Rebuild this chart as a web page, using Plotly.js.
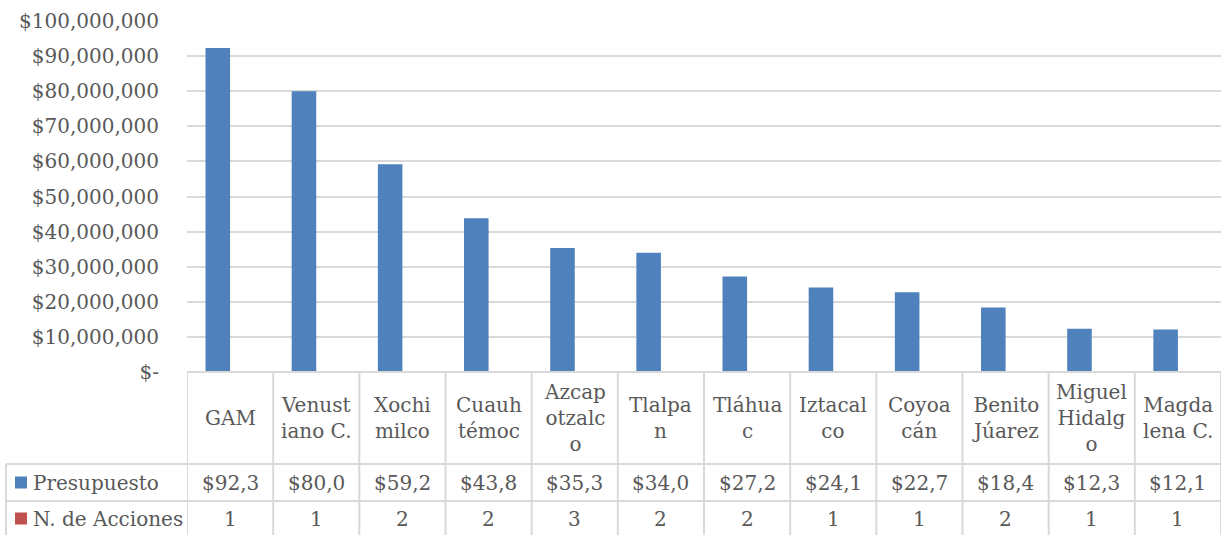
<!DOCTYPE html>
<html>
<head>
<meta charset="utf-8">
<script src="https://cdn.plot.ly/plotly-3.0.1.min.js"></script>
<style>
html,body{margin:0;padding:0;background:#fff;}
#chart{width:1225px;height:535px;}
</style>
</head>
<body>
<div id="chart"></div>
<script>
// ---- Data ----
const categories = ["GAM", "Venust<br>iano C.", "Xochi<br>milco", "Cuauh<br>témoc", "Azcap<br>otzalc<br>o", "Tlalpa<br>n", "Tláhua<br>c", "Iztacal<br>co", "Coyoa<br>cán", "Benito<br>Júarez", "Miguel<br>Hidalg<br>o", "Magda<br>lena C."];
const presupuesto = [92300000, 80000000, 59200000, 43800000, 35300000, 34000000, 27200000, 24100000, 22700000, 18400000, 12300000, 12100000];
const presupuestoLabels = ["$92,3", "$80,0", "$59,2", "$43,8", "$35,3", "$34,0", "$27,2", "$24,1", "$22,7", "$18,4", "$12,3", "$12,1"];
const acciones = [1, 1, 2, 2, 3, 2, 2, 1, 1, 2, 1, 1];
const seriesNames = ["Presupuesto", "N. de Acciones"];
const yTickVals = [0, 10000000, 20000000, 30000000, 40000000, 50000000, 60000000, 70000000, 80000000, 90000000, 100000000];
const yTickText = ["$-", "$10,000,000", "$20,000,000", "$30,000,000", "$40,000,000", "$50,000,000", "$60,000,000", "$70,000,000", "$80,000,000", "$90,000,000", "$100,000,000"];

// ---- Geometry helpers (pixel -> paper) ----
const W = 1225, H = 535;
const mL = 187, mR = 4, mT = 21, mB = 163;
const pw = W - mL - mR, ph = H - mT - mB;
const px = x => (x - mL) / pw;
const py = y => (H - mB - y) / ph;

const FONT = "DejaVu Serif";
const FS = 20;
const TXT = "#595959";
const GRID = "#d9d9d9";
const BLUE = "#4f81bd", RED = "#c0504d";
const idx = categories.map((_, i) => i);

const traces = [
  {type: "bar", x: idx, y: presupuesto, name: seriesNames[0], marker: {color: BLUE}, hoverinfo: "none"},
  {type: "bar", x: idx, y: acciones, name: seriesNames[1], marker: {color: RED}, hoverinfo: "none"}
];

const shapes = [];
const annotations = [];
const rowTop = 372, row1 = 464, row2 = 501, rowBot = 540;
const line = (xref, x0, x1, yref, y0, y1) => shapes.push({type: "line", xref, yref, x0, x1, y0, y1, line: {color: GRID, width: 2}, layer: "above"});

// vertical column lines
for (let i = 0; i <= categories.length; i++) {
  line("x", i - 0.5, i - 0.5, "paper", py(rowTop), py(rowBot));
}
// horizontal lines
line("x", -0.5, categories.length - 0.5, "paper", py(rowTop), py(rowTop));
line("paper", px(6), 1, "paper", py(row1), py(row1));
line("paper", px(6), 1, "paper", py(row2), py(row2));
line("paper", px(6), px(6), "paper", py(row1), py(rowBot));

// legend keys
const keyColors = [BLUE, RED];
const rowMids = [(row1 + row2) / 2, (row2 + rowBot - 4) / 2];
seriesNames.forEach((n, k) => {
  shapes.push({type: "rect", xref: "paper", yref: "paper", x0: px(15), x1: px(27), y0: py(rowMids[k] - 6), y1: py(rowMids[k] + 6), fillcolor: keyColors[k], line: {width: 0}, layer: "above"});
  annotations.push({xref: "paper", yref: "paper", x: px(31), y: py(rowMids[k]), text: n, showarrow: false, xanchor: "left", yanchor: "middle", font: {family: FONT, size: FS, color: TXT}});
});

categories.forEach((c, i) => {
  annotations.push({xref: "x", yref: "paper", x: i, y: py((rowTop + row1) / 2), text: c, showarrow: false, xanchor: "center", yanchor: "middle", font: {family: FONT, size: FS, color: TXT}});
  annotations.push({xref: "x", yref: "paper", x: i, y: py(rowMids[0]), text: presupuestoLabels[i], showarrow: false, xanchor: "center", yanchor: "middle", font: {family: FONT, size: FS, color: TXT}});
  annotations.push({xref: "x", yref: "paper", x: i, y: py(rowMids[1]), text: String(acciones[i]), showarrow: false, xanchor: "center", yanchor: "middle", font: {family: FONT, size: FS, color: TXT}});
});

const layout = {
  width: W, height: H,
  margin: {l: mL, r: mR, t: mT, b: mB},
  paper_bgcolor: "#fff", plot_bgcolor: "#fff",
  showlegend: false,
  barmode: "group", bargap: 0.43, bargroupgap: 0,
  xaxis: {type: "linear", range: [-0.5, categories.length - 0.5], showticklabels: false, showgrid: false, zeroline: false, ticks: "", fixedrange: true},
  yaxis: {range: [0, 100000000], tickvals: yTickVals, ticktext: yTickText, showgrid: true, gridcolor: GRID, gridwidth: 2, zeroline: false, ticks: "", ticklabelstandoff: 27, tickfont: {family: FONT, size: FS, color: TXT}, fixedrange: true},
  shapes, annotations,
  font: {family: FONT, color: TXT}
};

Plotly.newPlot("chart", traces, layout, {displayModeBar: false, staticPlot: true});
</script>
</body>
</html>
